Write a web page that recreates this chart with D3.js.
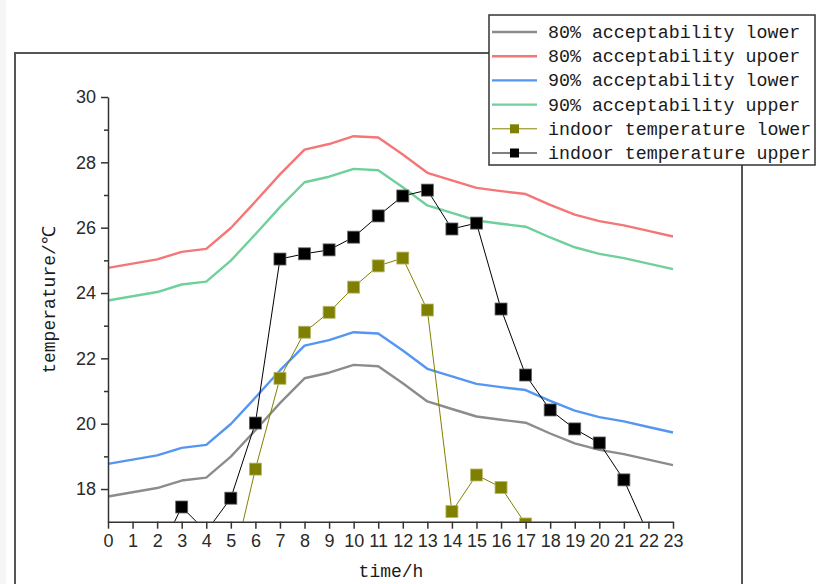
<!DOCTYPE html>
<html>
<head>
<meta charset="utf-8">
<script src="https://cdn.jsdelivr.net/npm/d3@7"></script>
<style>
  body { margin: 0; background: #fff; }
  svg { display: block; }
</style>
</head>
<body>
<svg id="chart" width="818" height="584"></svg>
<script>
'use strict'

// data
var hours = [0,1,2,3,4,5,6,7,8,9,10,11,12,13,14,15,16,17,18,19,20,21,22,23];

var accept80Lower = [17.77, 17.9, 18.03, 18.26, 18.35, 18.99, 19.8, 20.63, 21.39, 21.56, 21.8, 21.76,
                     21.24, 20.68, 20.45, 20.22, 20.12, 20.03, 19.7, 19.4, 19.2, 19.07, 18.9, 18.73];
var accept80Upper = [24.77, 24.9, 25.03, 25.26, 25.35, 25.99, 26.8, 27.63, 28.39, 28.56, 28.8, 28.76,
                     28.24, 27.68, 27.45, 27.22, 27.12, 27.03, 26.7, 26.4, 26.2, 26.07, 25.9, 25.73];
var accept90Lower = [18.77, 18.9, 19.03, 19.26, 19.35, 19.99, 20.8, 21.63, 22.39, 22.56, 22.8, 22.76,
                     22.24, 21.68, 21.45, 21.22, 21.12, 21.03, 20.7, 20.4, 20.2, 20.07, 19.9, 19.73];
var accept90Upper = [23.77, 23.9, 24.03, 24.26, 24.35, 24.99, 25.8, 26.63, 27.39, 27.56, 27.8, 27.76,
                     27.24, 26.68, 26.45, 26.22, 26.12, 26.03, 25.7, 25.4, 25.2, 25.07, 24.9, 24.73];
var indoorLower = [14.6, 14.5, 14.4, 14.6, 15.0, 15.4, 18.61, 21.39, 22.8, 23.41, 24.18, 24.83,
                   25.07, 23.48, 17.31, 18.43, 18.05, 16.93, 16.2, 15.8, 15.5, 15.3, 15.1, 15.0];
var indoorUpper = [15.5, 15.7, 15.9, 17.45, 16.7, 17.72, 20.02, 25.04, 25.2, 25.32, 25.71, 26.36,
                   26.97, 27.15, 25.96, 26.14, 23.51, 21.49, 20.42, 19.84, 19.41, 18.28, 16.6, 16.2];

var yMajorTicks = [18, 20, 22, 24, 26, 28, 30];
var yMinorTicks = [19, 21, 23, 25, 27, 29];

var seriesNames = ["80% acceptability lower", "80% acceptability upoer", "90% acceptability lower",
                   "90% acceptability upper", "indoor temperature lower", "indoor temperature upper"];
var seriesValues = [accept80Lower, accept80Upper, accept90Lower, accept90Upper, indoorLower, indoorUpper];
var seriesColors = ["#8c8c8c", "#f47676", "#5596f2", "#6fd09c", "#808000", "#000000"];
var seriesMarkers = [false, false, false, false, true, true];

var svg = d3.select("#chart");

var x = d3.scaleLinear().domain([0, 23]).range([108, 673]);
var y = d3.scaleLinear().domain([17, 30]).range([521.7, 97]);

// light strip on the far left, like the screenshot
svg.append("rect").attr("x", 0).attr("y", 0).attr("width", 6).attr("height", 584).attr("fill", "#f6f6f6");

// outer frame
svg.append("path")
    .attr("d", "M15,600V53H742V600")
    .attr("fill", "none").attr("stroke", "#555").attr("stroke-width", 2);

// clip for the plot area
svg.append("clipPath").attr("id", "plotClip")
    .append("rect").attr("x", 100).attr("y", 90).attr("width", 590).attr("height", y(17) - 90);

var plot = svg.append("g").attr("clip-path", "url(#plotClip)");

var line = d3.line()
    .x(function(d, i){ return x(hours[i]); })
    .y(function(d){ return y(d); });

seriesValues.forEach(function(vals, k){
    plot.append("path")
        .datum(vals)
        .attr("d", line)
        .attr("fill", "none")
        .attr("stroke", seriesColors[k])
        .attr("stroke-width", seriesMarkers[k] ? 1 : 2.4)
        .attr("stroke-linejoin", "round");
    if (seriesMarkers[k]) {
        plot.selectAll(null)
            .data(vals)
            .enter().append("rect")
            .attr("x", function(d, i){ return x(hours[i]) - 6; })
            .attr("y", function(d){ return y(d) - 6; })
            .attr("width", 12).attr("height", 12)
            .attr("fill", seriesColors[k])
            .attr("stroke", k === 4 ? "#b8b870" : "#666")
            .attr("stroke-width", 0.8);
    }
});

// axes
var xAxis = d3.axisBottom(x).tickValues(hours).tickSize(7).tickSizeOuter(0).tickPadding(6);
var gx = svg.append("g").attr("transform", "translate(0," + y(17) + ")").call(xAxis);

var yAxis = d3.axisLeft(y).tickValues(yMajorTicks).tickSize(7).tickSizeOuter(0).tickPadding(5);
var gy = svg.append("g").attr("transform", "translate(" + x(0) + ",0)").call(yAxis);

var yMinor = d3.axisLeft(y).tickValues(yMinorTicks).tickSize(4).tickSizeOuter(0).tickFormat("");
var gyMinor = svg.append("g").attr("transform", "translate(" + x(0) + ",0)").call(yMinor);
gyMinor.select(".domain").remove();

[gx, gy, gyMinor].forEach(function(g){
    g.selectAll("path, line").attr("stroke", "#333").attr("stroke-width", 1.5);
    g.selectAll("text")
        .attr("fill", "#2a2a2a")
        .style("font-family", "'Liberation Sans', Arial, sans-serif")
        .style("font-size", "18px");
});

// axis titles
svg.append("text")
    .attr("x", 391).attr("y", 577)
    .attr("text-anchor", "middle")
    .style("font-family", "'Liberation Mono', monospace")
    .style("font-size", "18px")
    .attr("fill", "#1a1a1a")
    .text("time/h");

svg.append("text")
    .attr("transform", "translate(55,300) rotate(-90)")
    .attr("text-anchor", "middle")
    .style("font-family", "'Liberation Mono', monospace")
    .style("font-size", "18px")
    .attr("fill", "#1a1a1a")
    .text("temperature/℃");

// legend
var legend = svg.append("g");
legend.append("rect")
    .attr("x", 489).attr("y", 15).attr("width", 326).attr("height", 150)
    .attr("fill", "#fff").attr("stroke", "#333").attr("stroke-width", 1.5);

var rows = legend.selectAll("g.row")
    .data(seriesNames)
    .enter().append("g").attr("class", "row")
    .attr("transform", function(d, i){ return "translate(0," + (32 + i * 24.2) + ")"; });

rows.append("line")
    .attr("x1", 492).attr("x2", 537).attr("y1", 0).attr("y2", 0)
    .attr("stroke", function(d, i){ return seriesColors[i]; })
    .attr("stroke-width", function(d, i){ return seriesMarkers[i] ? 1 : 2.4; });

rows.filter(function(d, i){ return seriesMarkers[i]; })
    .append("rect")
    .attr("x", 510).attr("y", -4.5).attr("width", 9).attr("height", 9)
    .attr("fill", function(d){ return seriesColors[seriesNames.indexOf(d)]; });

rows.append("text")
    .attr("x", 548).attr("y", 6)
    .style("font-family", "'Liberation Mono', monospace")
    .style("font-size", "18.3px")
    .attr("fill", "#1a1a1a")
    .text(function(d){ return d; });
</script>
</body>
</html>
